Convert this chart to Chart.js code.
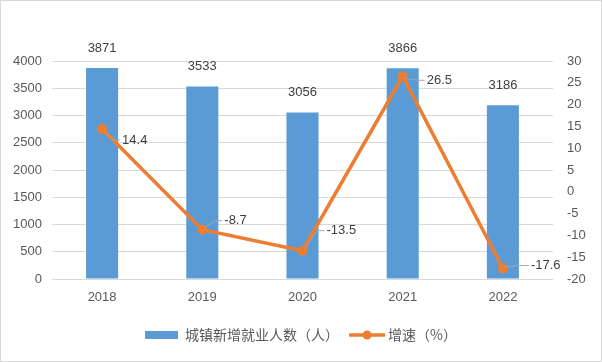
<!DOCTYPE html>
<html><head><meta charset="utf-8">
<script src="https://cdn.jsdelivr.net/npm/chart.js@4.4.1/dist/chart.umd.min.js"></script>
<style>html,body{margin:0;padding:0;background:#fff}canvas{display:block}</style>
</head><body>
<canvas id="c" width="602" height="362"></canvas>
<script>
const categories = ['2018','2019','2020','2021','2022'];
const newJobs = [3871, 3533, 3056, 3866, 3186];
const growthRate = [14.4, -8.7, -13.5, 26.5, -17.6];
const leftTicks = {min: 0, max: 4000, step: 500};
const rightTicks = {min: -20, max: 30, step: 5};
const barName = '城镇新增就业人数（人）';
const lineName = '增速（%）';
// label offsets (style) for line value labels, relative to point
const lineLabelOffsets = [[20, 11], [22, -9], [24, -20], [24, 4], [28, -3]];

const BLUE = '#5B9BD5', ORANGE = '#ED7D31', TXT = '#595959', GRID = '#d9d9d9';
const tickFont = {family: 'Liberation Sans, Arial, sans-serif', size: 13};
const cjkFont = '"Noto Sans CJK SC", sans-serif';

const labelsPlugin = {
  id: 'labels',
  afterDatasetsDraw(chart) {
    const ctx = chart.ctx;
    ctx.save();
    ctx.font = '13px Liberation Sans, Arial, sans-serif';
    ctx.fillStyle = '#404040';
    const bm = chart.getDatasetMeta(0);
    ctx.textAlign = 'center';
    ctx.textBaseline = 'middle';
    bm.data.forEach((el, i) => {
      ctx.fillText(String(newJobs[i]), el.x, el.y - 20);
    });
    const lm = chart.getDatasetMeta(1);
    ctx.textAlign = 'left';
    lm.data.forEach((el, i) => {
      const [dx, dy] = lineLabelOffsets[i];
      const lx = el.x + dx, ly = el.y + dy;
      ctx.strokeStyle = '#a6a6a6';
      ctx.lineWidth = 1;
      ctx.beginPath();
      const sx = el.x + (dx > 0 ? 2 : -2), sy = el.y + (dy > 0 ? 2 : -2);
      ctx.moveTo(sx, sy);
      ctx.lineTo(lx - 9, ly);
      ctx.lineTo(lx - 2, ly);
      ctx.stroke();
      ctx.fillText(String(growthRate[i]), lx, ly);
    });
    ctx.restore();
  },
  afterDraw(chart) {
    const ctx = chart.ctx;
    ctx.save();
    const y = 335;
    ctx.font = '14px ' + cjkFont;
    ctx.textBaseline = 'middle';
    ctx.textAlign = 'left';
    const w1 = ctx.measureText(barName).width;
    const w2 = ctx.measureText(lineName).width;
    const total = 33 + 7 + w1 + 10 + 36 + 3 + w2;
    let x = (602 - total) / 2;
    ctx.fillStyle = BLUE;
    ctx.fillRect(x, y - 4, 33, 8);
    x += 40;
    ctx.fillStyle = TXT;
    ctx.fillText(barName, x, y);
    x += w1 + 10;
    ctx.strokeStyle = ORANGE; ctx.lineWidth = 3.5;
    ctx.beginPath(); ctx.moveTo(x, y); ctx.lineTo(x + 36, y); ctx.stroke();
    ctx.fillStyle = ORANGE;
    ctx.beginPath(); ctx.arc(x + 18, y, 4.5, 0, Math.PI * 2); ctx.fill();
    x += 39;
    ctx.fillStyle = TXT;
    ctx.fillText(lineName, x, y);
    ctx.strokeStyle = GRID; ctx.lineWidth = 1;
    ctx.strokeRect(0.5, 0.5, 601, 361);
    ctx.restore();
  }
};

new Chart(document.getElementById('c'), {
  type: 'bar',
  data: {
    labels: categories,
    datasets: [
      {type: 'bar', label: barName, data: newJobs, backgroundColor: BLUE,
       yAxisID: 'y', order: 2, barPercentage: 0.64, categoryPercentage: 0.5},
      {type: 'line', label: lineName, data: growthRate, borderColor: ORANGE,
       backgroundColor: ORANGE, borderWidth: 3.5, pointRadius: 5, pointHoverRadius: 5,
       pointBackgroundColor: ORANGE, pointBorderWidth: 0, tension: 0, yAxisID: 'y1', order: 1}
    ]
  },
  options: {
    responsive: false,
    devicePixelRatio: 1,
    animation: false,
    events: [],
    layout: {padding: {top: 61, left: 0, right: 0, bottom: 43}},
    plugins: {legend: {display: false}, tooltip: {enabled: false}},
    scales: {
      x: {
        grid: {display: false, drawTicks: false},
        border: {display: false},
        ticks: {color: TXT, font: tickFont, padding: 11},
        afterFit(s) { s.height = 40; }
      },
      y: {
        position: 'left', min: leftTicks.min, max: leftTicks.max,
        ticks: {stepSize: leftTicks.step, color: TXT, font: tickFont, padding: 10,
                callback: v => String(v)},
        grid: {color: GRID, drawTicks: false},
        border: {display: false},
        afterFit(s) { s.width = 52; }
      },
      y1: {
        position: 'right', min: rightTicks.min, max: rightTicks.max,
        ticks: {stepSize: rightTicks.step, color: TXT, font: tickFont, padding: 14,
                callback: v => String(v)},
        grid: {display: false, drawTicks: false},
        border: {display: false},
        afterFit(s) { s.width = 49; }
      }
    }
  },
  plugins: [labelsPlugin]
});
</script>
</body></html>
